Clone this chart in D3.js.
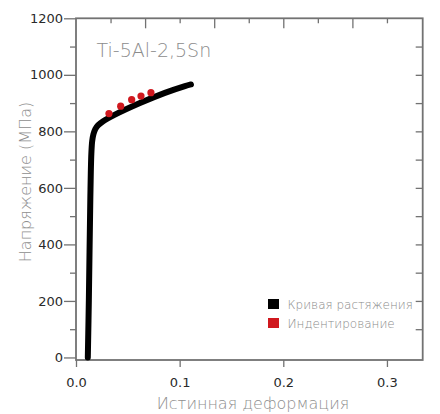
<!DOCTYPE html>
<html><head><meta charset="utf-8">
<script src="https://cdn.jsdelivr.net/npm/d3@7"></script>
<style>body{margin:0;background:#fff}svg{display:block}</style>
</head><body>
<svg id="c" width="440" height="414"></svg>
<script>
// Tensile curve (true strain, stress MPa)
const curveStrain = [0.0114,0.0124,0.0138,0.0148,0.0156,0.0168,0.0186,0.0214,0.0262,0.0376,0.0617,0.0858,0.1051,0.1109];
const curveStress = [0,203,557,720,765,790,808,822,836,859,900,936,960,966];
// Indentation points
const indStrain = [0.0318,0.0431,0.0537,0.0627,0.0723];
const indStress = [863,889,912,925,937];
const xTicks = [0,0.1,0.2,0.3];
const yTicks = [0,100,200,300,400,500,600,700,800,900,1000,1100,1200];
const title = "Ti-5Al-2,5Sn";
const xTitle = "Истинная деформация";
const yTitle = "Напряжение (МПа)";
const legendLabels = ["Кривая растяжения","Индентирование"];
const colors = ["#000000","#d0181e"];

const L=76, R=422.7, T=18.3, B=360;
const svg = d3.select("#c");
const font = "'DejaVu Sans', sans-serif";
const x = d3.scaleLinear().domain([0,0.3345]).range([L,R]);
const y = d3.scaleLinear().domain([-9,1200]).range([B,T]);
const axisCol = "#727272";

// left axis
const gl = svg.append("g").attr("transform",`translate(${L},0)`)
  .call(d3.axisLeft(y).tickValues(yTicks).tickSize(12).tickPadding(1)
    .tickFormat(d=> d%200===0 ? d : ""));
gl.select(".domain").remove();
gl.selectAll(".tick line").attr("stroke",axisCol).attr("stroke-width",1.3)
  .attr("x2",d=> d%200===0 ? -12 : -6);
gl.selectAll(".tick text").attr("font-family",font).attr("font-size",13).attr("fill","#2a2a2a");

// right axis
const gr = svg.append("g").attr("transform",`translate(${R},0)`)
  .call(d3.axisRight(y).tickValues(yTicks.filter(v=>v>0&&v<1200)).tickSize(-7).tickFormat(""));
gr.select(".domain").remove();
gr.selectAll(".tick line").attr("stroke",axisCol).attr("stroke-width",1.3);

// bottom axis
const gb = svg.append("g").attr("transform",`translate(0,${B})`)
  .call(d3.axisBottom(x).tickValues(xTicks).tickSize(7).tickPadding(11).tickFormat(d3.format(".1f")));
gb.select(".domain").remove();
gb.selectAll(".tick line").attr("stroke",axisCol).attr("stroke-width",1.3);
gb.selectAll(".tick text").attr("font-family",font).attr("font-size",13).attr("fill","#2a2a2a");

// top axis (minor ticks inward)
const topVals = d3.range(1,10).map(i=>i/30);
const gt = svg.append("g").attr("transform",`translate(0,${T})`)
  .call(d3.axisTop(x).tickValues(topVals).tickSize(-5).tickFormat(""));
gt.select(".domain").remove();
gt.selectAll(".tick line").attr("stroke",axisCol).attr("stroke-width",1.3)
  .attr("y2",(d,i)=> (i+1)%2===0 ? 10 : 5);

// frame
svg.append("rect").attr("x",L).attr("y",T).attr("width",R-L).attr("height",B-T)
  .attr("fill","none").attr("stroke",axisCol).attr("stroke-width",1.8);

// curve
const pts = curveStrain.map((s,i)=>[s,curveStress[i]]);
svg.append("path").datum(pts)
  .attr("d", d3.line().x(d=>x(d[0])).y(d=>y(d[1])).curve(d3.curveCatmullRom.alpha(0.5)))
  .attr("fill","none").attr("stroke",colors[0]).attr("stroke-width",6)
  .attr("stroke-linecap","round").attr("stroke-linejoin","round");

// indentation points
svg.selectAll("circle.ind").data(indStrain.map((s,i)=>[s,indStress[i]])).enter()
  .append("circle").attr("class","ind")
  .attr("cx",d=>x(d[0])).attr("cy",d=>y(d[1])).attr("r",3.6).attr("fill",colors[1]);

// title
svg.append("text").attr("x",96.5).attr("y",56.5).text(title)
  .attr("font-family",font).attr("font-weight",200).attr("font-size",19).attr("fill","#8c8c8c");

// axis titles
svg.append("text").attr("x",253).attr("y",408.5).attr("text-anchor","middle").text(xTitle)
  .attr("font-family",font).attr("font-weight",200).attr("font-size",16).attr("fill","#8e8e8e");
svg.append("text").attr("transform","translate(30.5,182) rotate(-90)").attr("text-anchor","middle").text(yTitle)
  .attr("font-family",font).attr("font-weight",200).attr("font-size",16).attr("fill","#8e8e8e");

// legend
const lg = svg.append("g").attr("transform","translate(268,299)");
legendLabels.forEach((lab,i)=>{
  lg.append("rect").attr("x",0).attr("y",i*19).attr("width",11).attr("height",10).attr("fill",colors[i]);
  lg.append("text").attr("x",19.5).attr("y",i*19+9.5).text(lab)
    .attr("font-family",font).attr("font-weight",200).attr("font-size",12).attr("fill","#8a8a8a");
});
</script>
</body></html>
